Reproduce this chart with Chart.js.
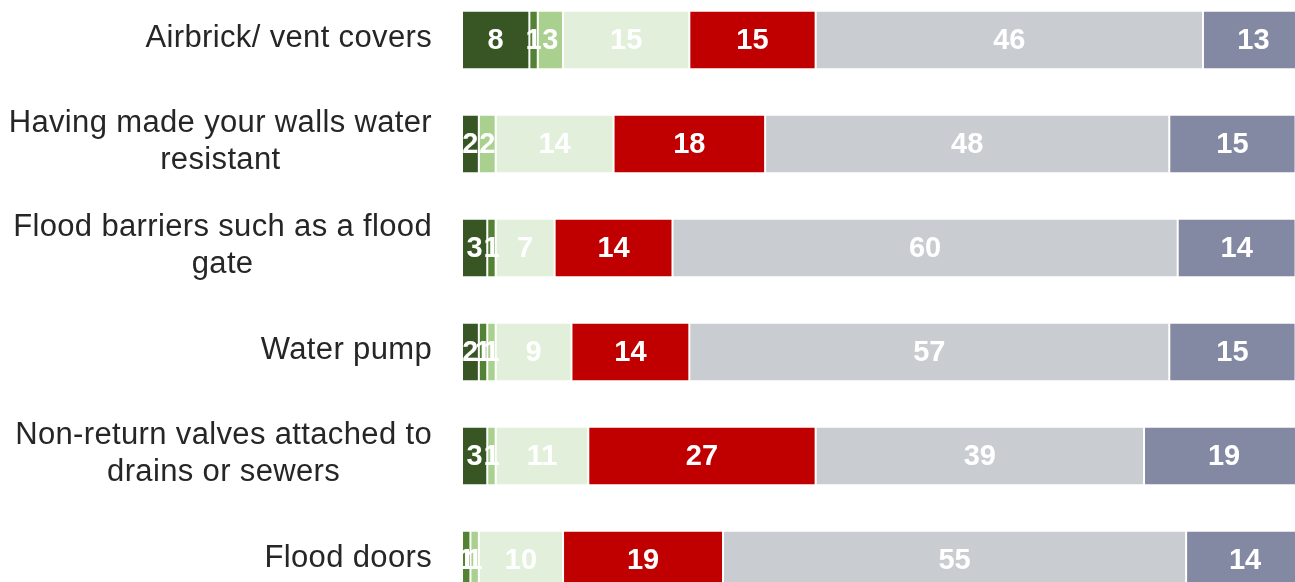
<!DOCTYPE html>
<html>
<head>
<meta charset="utf-8">
<title>Flood protection measures</title>
<script src="https://cdn.jsdelivr.net/npm/chart.js@4/dist/chart.umd.min.js"></script>
<style>
  html, body { margin: 0; padding: 0; background: #ffffff; overflow: hidden; width: 1295px; height: 582px; }
  #wrap { position: absolute; left: 0; top: -12px; }
  canvas { display: block; }
</style>
</head>
<body>
<div id="wrap"><canvas id="chart" width="1304" height="624"></canvas></div>
<script>
// Row labels (multi-line rows are arrays of lines)
const categories = [
  "Airbrick/ vent covers",
  ["Having made your walls water", "resistant"],
  ["Flood barriers such as a flood", "gate"],
  "Water pump",
  ["Non-return valves attached to", "drains or sewers"],
  "Flood doors"
];

// Percentages for each response band, one value per row
const band1 = [8, 2, 3, 2, 3, 0];
const band2 = [1, 0, 1, 1, 0, 1];
const band3 = [3, 2, 0, 1, 1, 1];
const band4 = [15, 14, 7, 9, 11, 10];
const band5 = [15, 18, 14, 14, 27, 19];
const band6 = [46, 48, 60, 57, 39, 55];
const band7 = [13, 15, 14, 15, 19, 14];

const bands = [band1, band2, band3, band4, band5, band6, band7];
const bandColors = ["#375623", "#548235", "#a9d08e", "#e2efda", "#c00000", "#c9cdd1", "#8389a3"];

const LABEL_FONT = '31px "Liberation Sans", Arial, sans-serif';
const VALUE_FONT = 'bold 29px "Liberation Sans", Arial, sans-serif';

// Draws the row labels: block right-aligned to the axis, lines centred within the block
const rowLabels = {
  id: 'rowLabels',
  afterDraw(chart) {
    const ctx = chart.ctx;
    const y = chart.scales.y;
    const rightEdge = chart.chartArea.left - 30;
    const lineH = 37.5;
    ctx.save();
    ctx.font = LABEL_FONT;
    if ('letterSpacing' in ctx) ctx.letterSpacing = '0.35px';
    ctx.fillStyle = '#262626';
    ctx.textBaseline = 'alphabetic';
    categories.forEach((cat, i) => {
      const lines = Array.isArray(cat) ? cat : [cat];
      const widths = lines.map(l => ctx.measureText(l).width);
      const blockW = Math.max(...widths);
      const cx = rightEdge - blockW / 2;
      const cy = y.getPixelForValue(i);
      ctx.textAlign = 'center';
      lines.forEach((l, k) => {
        const by = cy + 6.5 + (k - (lines.length - 1) / 2) * lineH;
        ctx.fillText(l, cx, by);
      });
    });
    ctx.restore();
  }
};

// Writes each segment's value in white at the middle of the segment
const segmentValues = {
  id: 'segmentValues',
  afterDatasetsDraw(chart) {
    const ctx = chart.ctx;
    const x = chart.scales.x;
    const y = chart.scales.y;
    ctx.save();
    ctx.font = VALUE_FONT;
    ctx.fillStyle = '#ffffff';
    ctx.textAlign = 'center';
    ctx.textBaseline = 'middle';
    categories.forEach((c, i) => {
      let start = 0;
      bands.forEach(vals => {
        const v = vals[i];
        const end = start + v;
        if (v > 0) {
          const a = Math.min(start, x.max);
          const b = Math.min(end, x.max);
          const px = (x.getPixelForValue(a) + x.getPixelForValue(b)) / 2;
          ctx.fillText(String(v), px, y.getPixelForValue(i) + 1);
        }
        start = end;
      });
    });
    ctx.restore();
  }
};

new Chart(document.getElementById('chart'), {
  type: 'bar',
  data: {
    labels: categories.map(c => Array.isArray(c) ? c.join(' ') : c),
    datasets: bands.map((vals, k) => ({
      label: 'Band ' + (k + 1),
      data: vals,
      backgroundColor: bandColors[k],
      borderColor: '#ffffff',
      borderWidth: { left: 1, right: 1, top: 0, bottom: 0 },
      borderSkipped: false,
      categoryPercentage: 1,
      barPercentage: 0.55
    }))
  },
  options: {
    indexAxis: 'y',
    responsive: false,
    animation: false,
    devicePixelRatio: 1,
    layout: { padding: { left: 462, right: 0, top: 0, bottom: 0 } },
    plugins: { legend: { display: false }, tooltip: { enabled: false } },
    scales: {
      x: { stacked: true, min: 0, max: 100, display: false },
      y: { stacked: true, display: false, offset: true }
    }
  },
  plugins: [rowLabels, segmentValues]
});
</script>
</body>
</html>
